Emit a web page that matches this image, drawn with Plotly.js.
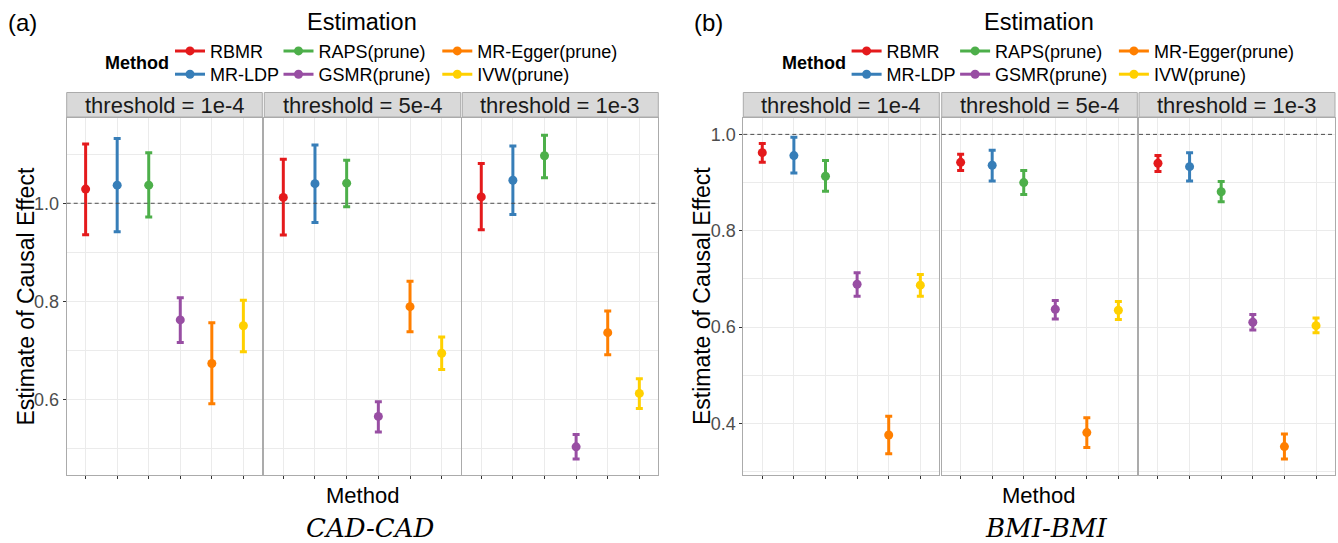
<!DOCTYPE html>
<html>
<head>
<meta charset="utf-8">
<script src="https://cdn.plot.ly/plotly-3.0.1.min.js"></script>
<style>html,body{margin:0;padding:0;background:#fff;}#chart{width:1338px;height:543px;}</style>
</head>
<body>
<div id="chart"></div>
<script>
// ---------- DATA ----------
const methods = ['RBMR', 'MR-LDP', 'RAPS(prune)', 'GSMR(prune)', 'MR-Egger(prune)', 'IVW(prune)'];
const thresholdLabels = ['threshold = 1e-4', 'threshold = 5e-4', 'threshold = 1e-3'];
const panelLabels = ['(a)', '(b)'];
const panelTraits = ['CAD-CAD', 'BMI-BMI'];
const colors = ['#E41A1C', '#377EB8', '#4DAF4A', '#984EA3', '#FF7F00', '#FFD000'];

// CAD-CAD
const cad_1e4_est = [1.029, 1.037, 1.037, 0.762, 0.673, 0.750];
const cad_1e4_lo  = [0.936, 0.942, 0.972, 0.716, 0.591, 0.697];
const cad_1e4_hi  = [1.121, 1.132, 1.103, 0.807, 0.756, 0.802];
const cad_5e4_est = [1.012, 1.040, 1.041, 0.565, 0.789, 0.694];
const cad_5e4_lo  = [0.935, 0.961, 0.993, 0.533, 0.738, 0.661];
const cad_5e4_hi  = [1.090, 1.119, 1.088, 0.595, 0.841, 0.727];
const cad_1e3_est = [1.013, 1.047, 1.097, 0.503, 0.736, 0.612];
const cad_1e3_lo  = [0.946, 0.977, 1.052, 0.478, 0.691, 0.581];
const cad_1e3_hi  = [1.081, 1.117, 1.139, 0.528, 0.780, 0.642];

// BMI-BMI
const bmi_1e4_est = [0.962, 0.956, 0.913, 0.689, 0.376, 0.687];
const bmi_1e4_lo  = [0.942, 0.920, 0.882, 0.664, 0.337, 0.664];
const bmi_1e4_hi  = [0.981, 0.994, 0.946, 0.713, 0.415, 0.709];
const bmi_5e4_est = [0.942, 0.936, 0.900, 0.637, 0.381, 0.635];
const bmi_5e4_lo  = [0.925, 0.903, 0.875, 0.617, 0.350, 0.616];
const bmi_5e4_hi  = [0.959, 0.967, 0.925, 0.655, 0.412, 0.653];
const bmi_1e3_est = [0.940, 0.933, 0.881, 0.610, 0.352, 0.603];
const bmi_1e3_lo  = [0.923, 0.903, 0.860, 0.594, 0.326, 0.588];
const bmi_1e3_hi  = [0.956, 0.962, 0.902, 0.626, 0.378, 0.619];

const referenceLine = 1.0;

// ---------- LAYOUT HELPERS ----------
const W = 1338, H = 543;
const X = px => px / W;
const Y = py => 1 - py / H;
const FONT = 'Liberation Sans, Arial, Helvetica, sans-serif';

const panels = [
  { facets: [[cad_1e4_est, cad_1e4_lo, cad_1e4_hi], [cad_5e4_est, cad_5e4_lo, cad_5e4_hi], [cad_1e3_est, cad_1e3_lo, cad_1e3_hi]],
    xdom: [[66.7, 262.3], [264.3, 460.7], [462.3, 658.3]], yrange: [0.4455, 1.174], shift: 0 },
  { facets: [[bmi_1e4_est, bmi_1e4_lo, bmi_1e4_hi], [bmi_5e4_est, bmi_5e4_lo, bmi_5e4_hi], [bmi_1e3_est, bmi_1e3_lo, bmi_1e3_hi]],
    xdom: [[743.3, 939.3], [941.7, 1137.3], [1139, 1335]], yrange: [0.293, 1.034], shift: 676.6 }
];
const plotTop = 118, plotBot = 475, stripTop = 92.5, stripBot = 117;

const traces = [];
const layout = {
  width: W, height: H,
  margin: { l: 0, r: 0, t: 0, b: 0 },
  paper_bgcolor: '#fff', plot_bgcolor: '#fff',
  font: { family: FONT, color: '#000' },
  showlegend: true,
  shapes: [], annotations: []
};

// legend item text-start x (px) per column, item centre y (px) per row
const legendColX = [210, 318.5, 477.3];
const legendRowY = [51.7, 75];

panels.forEach((p, pi) => {
  const s = p.shift;
  p.facets.forEach((fac, fi) => {
    const n = pi * 3 + fi + 1;
    const xk = n === 1 ? 'xaxis' : 'xaxis' + n;
    const yk = n === 1 ? 'yaxis' : 'yaxis' + n;
    const xr = n === 1 ? 'x' : 'x' + n;
    const yr = n === 1 ? 'y' : 'y' + n;
    const first = fi === 0;
    layout[xk] = {
      domain: [X(p.xdom[fi][0]), X(p.xdom[fi][1])],
      anchor: yr, type: 'category', categoryarray: methods, categoryorder: 'array',
      range: [-0.6, 5.6], showgrid: true, gridcolor: '#ebebeb', gridwidth: 1,
      ticks: 'outside', ticklen: 3, tickcolor: '#333', tickwidth: 1,
      showticklabels: false, showline: true, mirror: true, linecolor: '#ababab', linewidth: 1,
      zeroline: false, fixedrange: true
    };
    layout[yk] = {
      domain: [Y(plotBot), Y(plotTop)], anchor: xr,
      range: p.yrange, tick0: 0, dtick: 0.2, tickformat: '.1f',
      showgrid: true, gridcolor: '#ebebeb', gridwidth: 1,
      minor: { dtick: 0.1, tick0: 0, showgrid: true, gridcolor: '#ebebeb', gridwidth: 1 },
      ticks: first ? 'outside' : '', ticklen: 3, tickcolor: '#333',
      showticklabels: first, tickfont: { size: 18, color: '#4d4d4d', family: FONT },
      showline: true, mirror: true, linecolor: '#ababab', linewidth: 1,
      zeroline: false, fixedrange: true
    };
    if (!first) layout[yk].matches = pi === 0 ? 'y' : 'y4';

    const est = fac[0], lo = fac[1], hi = fac[2];
    methods.forEach((m, mi) => {
      const lg = 'legend' + (pi * 6 + mi === 0 ? '' : String(pi * 6 + mi + 1));
      traces.push({
        type: 'scatter', mode: 'lines+markers',
        x: [m], y: [est[mi]], xaxis: xr, yaxis: yr,
        name: m, legendgroup: 'p' + pi + m,
        legend: lg,
        showlegend: first,
        marker: { color: colors[mi], size: 9 },
        line: { color: colors[mi], width: 3 },
        error_y: { type: 'data', symmetric: false,
          array: [hi[mi] - est[mi]], arrayminus: [est[mi] - lo[mi]],
          color: colors[mi], thickness: 3, width: 3.5 },
        hoverinfo: 'x+y'
      });
      if (first) {
        const col = Math.floor(mi / 2), row = mi % 2;
        layout[lg] = {
          x: X(legendColX[col] + s - 40), y: Y(legendRowY[row] - 19),
          xanchor: 'left', yanchor: 'top', orientation: 'v',
          bgcolor: 'rgba(0,0,0,0)', borderwidth: 0,
          font: { size: 18, color: '#000', family: FONT }, itemwidth: 30,
          itemclick: false, itemdoubleclick: false
        };
      }
    });

    // dashed reference line at 1.0
    layout.shapes.push({ type: 'line', xref: xr + ' domain', yref: yr, x0: 0, x1: 1,
      y0: referenceLine, y1: referenceLine, layer: 'above',
      line: { color: '#4d4d4d', width: 1, dash: '4px,3px' } });

    // facet strip
    layout.shapes.push({ type: 'rect', xref: 'paper', yref: 'paper',
      x0: X(p.xdom[fi][0]), x1: X(p.xdom[fi][1]), y0: Y(stripBot), y1: Y(stripTop),
      fillcolor: '#d9d9d9', line: { color: '#ababab', width: 1 }, layer: 'below' });
    layout.annotations.push({ xref: 'paper', yref: 'paper',
      x: X((p.xdom[fi][0] + p.xdom[fi][1]) / 2), y: Y((stripTop + stripBot) / 2 + 0.5),
      xanchor: 'center', yanchor: 'middle', showarrow: false,
      text: thresholdLabels[fi], font: { size: 22, color: '#1a1a1a', family: FONT } });
  });

  // legend title
  layout.annotations.push({ xref: 'paper', yref: 'paper', x: X(103 + s), y: Y(63.5),
    xanchor: 'left', yanchor: 'middle', showarrow: false, text: '<b>Method</b>',
    font: { size: 18, color: '#000', family: FONT } });
  // "Estimation" title
  layout.annotations.push({ xref: 'paper', yref: 'paper', x: X(362 + s), y: Y(22),
    xanchor: 'center', yanchor: 'middle', showarrow: false, text: 'Estimation',
    font: { size: 23.5, color: '#000', family: FONT } });
  // panel tag
  layout.annotations.push({ xref: 'paper', yref: 'paper', x: X(pi === 0 ? 6 : 692), y: Y(22),
    xanchor: 'left', yanchor: 'middle', showarrow: false, text: panelLabels[pi],
    font: { size: 24, color: '#000', family: FONT } });
  // y-axis title
  layout.annotations.push({ xref: 'paper', yref: 'paper', x: X(25 + s), y: Y(296.5),
    xanchor: 'center', yanchor: 'middle', showarrow: false, textangle: -90,
    text: 'Estimate of Causal Effect', font: { size: 23, color: '#000', family: FONT } });
  // x-axis title
  layout.annotations.push({ xref: 'paper', yref: 'paper', x: X(362 + s), y: Y(495),
    xanchor: 'center', yanchor: 'middle', showarrow: false, text: 'Method',
    font: { size: 22, color: '#000', family: FONT } });
  // trait caption
  layout.annotations.push({ xref: 'paper', yref: 'paper', x: X(370 + s), y: Y(528),
    xanchor: 'center', yanchor: 'middle', showarrow: false, text: '<i>' + panelTraits[pi] + '</i>',
    font: { size: 26, color: '#000', family: 'DejaVu Serif, Liberation Serif, serif' } });
});

Plotly.newPlot('chart', traces, layout, { displayModeBar: false, staticPlot: true });
</script>
</body>
</html>
